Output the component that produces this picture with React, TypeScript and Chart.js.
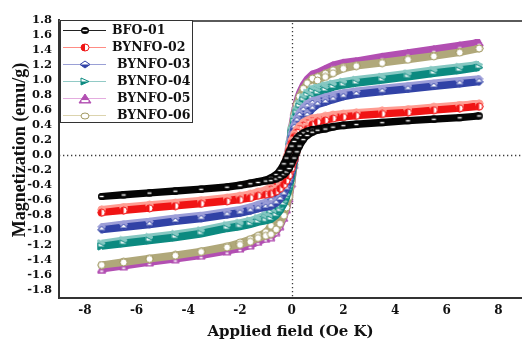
import React, { useEffect, useRef } from 'react';
import { Chart, registerables } from 'chart.js';

Chart.register(...registerables);

// ---- data (applied field in kOe, magnetization in emu/g) ----
const FIELD_DOWN = [7.25, 6.5, 5.5, 4.5, 3.5, 2.5, 2.0, 1.6, 1.3, 1.0, 0.8, 0.6, 0.45, 0.3, 0.2, 0.1, 0.0, -0.1, -0.2, -0.3, -0.45, -0.6, -0.8, -1.0, -1.3, -1.6, -2.0, -2.5, -3.5, -4.5, -5.5, -6.5, -7.35];
const FIELD_UP = [-7.35, -6.5, -5.5, -4.5, -3.5, -2.5, -2.0, -1.6, -1.3, -1.0, -0.8, -0.6, -0.45, -0.3, -0.2, -0.1, 0.0, 0.1, 0.2, 0.3, 0.45, 0.6, 0.8, 1.0, 1.3, 1.6, 2.0, 2.5, 3.5, 4.5, 5.5, 6.5, 7.25];

const BFO01_DOWN = [0.52, 0.50, 0.48, 0.46, 0.435, 0.412, 0.398, 0.38, 0.365, 0.345, 0.338, 0.317, 0.293, 0.259, 0.224, 0.179, 0.117, 0.041, -0.042, -0.119, -0.207, -0.263, -0.306, -0.334, -0.355, -0.375, -0.40, -0.425, -0.455, -0.48, -0.505, -0.53, -0.555];
const BFO01_UP = [-0.555, -0.535, -0.51, -0.485, -0.46, -0.432, -0.41, -0.385, -0.368, -0.35, -0.343, -0.322, -0.298, -0.263, -0.228, -0.182, -0.119, -0.042, 0.041, 0.117, 0.204, 0.259, 0.302, 0.329, 0.345, 0.37, 0.39, 0.405, 0.43, 0.455, 0.475, 0.495, 0.52];

const BYNFO02_DOWN = [0.645, 0.625, 0.60, 0.57, 0.55, 0.527, 0.512, 0.497, 0.48, 0.46, 0.451, 0.423, 0.391, 0.345, 0.299, 0.239, 0.156, 0.055, -0.064, -0.18, -0.313, -0.398, -0.464, -0.506, -0.53, -0.56, -0.585, -0.61, -0.645, -0.677, -0.707, -0.737, -0.77];
const BYNFO02_UP = [-0.77, -0.743, -0.713, -0.683, -0.653, -0.62, -0.60, -0.575, -0.545, -0.53, -0.519, -0.488, -0.451, -0.398, -0.345, -0.276, -0.18, -0.064, 0.055, 0.156, 0.271, 0.345, 0.403, 0.439, 0.46, 0.485, 0.505, 0.522, 0.547, 0.567, 0.597, 0.622, 0.645];

const BYNFO03_DOWN = [0.975, 0.953, 0.918, 0.883, 0.848, 0.813, 0.79, 0.76, 0.735, 0.70, 0.686, 0.644, 0.595, 0.525, 0.455, 0.364, 0.238, 0.084, -0.084, -0.238, -0.413, -0.525, -0.613, -0.669, -0.70, -0.735, -0.768, -0.795, -0.847, -0.882, -0.927, -0.962, -1.0];
const BYNFO03_UP = [-1.0, -0.968, -0.933, -0.888, -0.853, -0.803, -0.778, -0.75, -0.72, -0.70, -0.686, -0.644, -0.595, -0.525, -0.455, -0.364, -0.238, -0.084, 0.084, 0.238, 0.413, 0.525, 0.613, 0.669, 0.70, 0.735, 0.775, 0.805, 0.842, 0.877, 0.912, 0.947, 0.975];

const BYNFO04_DOWN = [1.165, 1.135, 1.095, 1.05, 1.005, 0.965, 0.94, 0.915, 0.89, 0.86, 0.843, 0.791, 0.731, 0.645, 0.559, 0.447, 0.292, 0.103, -0.106, -0.299, -0.519, -0.66, -0.77, -0.84, -0.88, -0.915, -0.945, -0.975, -1.045, -1.095, -1.135, -1.175, -1.22];
const BYNFO04_UP = [-1.22, -1.185, -1.145, -1.105, -1.055, -0.985, -0.96, -0.93, -0.90, -0.88, -0.862, -0.81, -0.748, -0.66, -0.572, -0.458, -0.299, -0.106, 0.103, 0.292, 0.507, 0.645, 0.753, 0.821, 0.86, 0.90, 0.93, 0.955, 0.995, 1.04, 1.085, 1.125, 1.165];

const BYNFO05_DOWN = [1.50, 1.465, 1.415, 1.365, 1.315, 1.255, 1.235, 1.20, 1.15, 1.10, 1.078, 1.012, 0.935, 0.825, 0.715, 0.572, 0.374, 0.132, -0.134, -0.381, -0.661, -0.84, -0.98, -1.07, -1.12, -1.17, -1.22, -1.27, -1.335, -1.38, -1.425, -1.475, -1.525];
const BYNFO05_UP = [-1.525, -1.485, -1.435, -1.39, -1.345, -1.285, -1.25, -1.21, -1.16, -1.12, -1.098, -1.03, -0.952, -0.84, -0.728, -0.582, -0.381, -0.134, 0.132, 0.374, 0.649, 0.825, 0.963, 1.051, 1.10, 1.15, 1.20, 1.245, 1.305, 1.355, 1.405, 1.455, 1.50];

const BYNFO06_DOWN = [1.42, 1.375, 1.325, 1.28, 1.235, 1.195, 1.17, 1.13, 1.085, 1.04, 1.019, 0.957, 0.884, 0.78, 0.676, 0.541, 0.354, 0.125, -0.13, -0.367, -0.637, -0.81, -0.945, -1.031, -1.08, -1.125, -1.17, -1.22, -1.285, -1.335, -1.38, -1.425, -1.47];
const BYNFO06_UP = [-1.47, -1.435, -1.39, -1.345, -1.295, -1.235, -1.20, -1.16, -1.11, -1.08, -1.058, -0.994, -0.918, -0.81, -0.702, -0.562, -0.367, -0.13, 0.125, 0.354, 0.614, 0.78, 0.91, 0.993, 1.04, 1.09, 1.15, 1.185, 1.225, 1.27, 1.315, 1.365, 1.42];

const SERIES_NAMES = ['BFO-01', 'BYNFO-02', 'BYNFO-03', 'BYNFO-04', 'BYNFO-05', 'BYNFO-06'];
const SERIES_DOWN = [BFO01_DOWN, BYNFO02_DOWN, BYNFO03_DOWN, BYNFO04_DOWN, BYNFO05_DOWN, BYNFO06_DOWN];
const SERIES_UP = [BFO01_UP, BYNFO02_UP, BYNFO03_UP, BYNFO04_UP, BYNFO05_UP, BYNFO06_UP];

const X_TICKS = [-8, -6, -4, -2, 0, 2, 4, 6, 8];
const Y_TICKS = [-1.8, -1.6, -1.4, -1.2, -1.0, -0.8, -0.6, -0.4, -0.2, 0.0, 0.2, 0.4, 0.6, 0.8, 1.0, 1.2, 1.4, 1.6, 1.8];

const X_TITLE = 'Applied field (Oe K)';
const Y_TITLE = 'Magnetization (emu/g)';

// ---- styles ----
const LINE_COLORS = ['#050505', '#f01414', '#3142a6', '#0c8a80', '#b24fb2', '#b0a87a'];
const MARKER_COLORS = ['#050505', '#f01414', '#3142a6', '#0c8a80', '#b24fb2', '#a29962'];
const SHADOW_COLORS = ['', '#ff9c92', '#9c9ed8', '#86c8c2', '', ''];
const LEGEND_LINE_COLORS = ['#222222', '#ff8c84', '#9aa0d6', '#92cac6', '#e4acdf', '#dcd4ae'];
const MARKER_KINDS = ['circleStripe', 'circleHalf', 'diamondHalf', 'triRightHalf', 'triUpHalf', 'circleOpen'];
const DRAW_ORDER = [0, 1, 2, 3, 5, 4];

function makeMarker(kind: string, color: string, w: number, h: number): HTMLCanvasElement {
  const c = document.createElement('canvas');
  c.width = w;
  c.height = h;
  const g = c.getContext('2d') as CanvasRenderingContext2D;
  const mx = w / 2;
  const my = h / 2;
  const rx = w / 2 - 1;
  const ry = h / 2 - 1;
  g.lineWidth = 1;
  g.strokeStyle = color;
  const ell = () => {
    g.beginPath();
    g.ellipse(mx, my, rx, ry, 0, 0, Math.PI * 2);
  };
  if (kind === 'circleStripe') {
    g.fillStyle = color;
    ell();
    g.fill();
    g.fillStyle = '#ffffff';
    g.fillRect(mx - rx + 1.5, my - 0.7, 2 * rx - 3, 1.4);
  } else if (kind === 'circleHalf') {
    g.fillStyle = '#ffffff';
    ell();
    g.fill();
    g.fillStyle = color;
    g.beginPath();
    g.ellipse(mx, my, rx, ry, 0, Math.PI / 2, (Math.PI * 3) / 2);
    g.closePath();
    g.fill();
    ell();
    g.stroke();
  } else if (kind === 'diamondHalf') {
    g.fillStyle = '#ffffff';
    g.beginPath();
    g.moveTo(mx, my - ry);
    g.lineTo(mx + rx, my);
    g.lineTo(mx, my + ry);
    g.lineTo(mx - rx, my);
    g.closePath();
    g.fill();
    g.stroke();
    g.fillStyle = color;
    g.beginPath();
    g.moveTo(mx - rx, my);
    g.lineTo(mx + rx, my);
    g.lineTo(mx, my + ry);
    g.closePath();
    g.fill();
  } else if (kind === 'triRightHalf') {
    g.fillStyle = '#ffffff';
    g.beginPath();
    g.moveTo(mx - rx, my - ry);
    g.lineTo(mx + rx, my);
    g.lineTo(mx - rx, my + ry);
    g.closePath();
    g.fill();
    g.stroke();
    g.fillStyle = color;
    g.beginPath();
    g.moveTo(mx - rx, my);
    g.lineTo(mx + rx, my);
    g.lineTo(mx - rx, my + ry);
    g.closePath();
    g.fill();
  } else if (kind === 'triUpHalf') {
    g.fillStyle = color;
    g.beginPath();
    g.moveTo(mx, my - ry);
    g.lineTo(mx + rx, my + ry);
    g.lineTo(mx - rx, my + ry);
    g.closePath();
    g.fill();
    g.stroke();
    g.fillStyle = '#ffffff';
    g.fillRect(mx - rx + 2.5, my + ry * 0.35, 2 * rx - 5, ry * 0.45);
  } else {
    g.fillStyle = '#ffffff';
    ell();
    g.fill();
    g.stroke();
  }
  return c;
}

export default function App() {
  const ref = useRef<HTMLCanvasElement>(null);

  useEffect(() => {
    const canvas = ref.current as HTMLCanvasElement;
    const dataMarkers = MARKER_KINDS.map((k, i) =>
      k === 'triUpHalf' ? makeMarker(k, MARKER_COLORS[i], 10, 9) : makeMarker(k, MARKER_COLORS[i], 9, 9)
    );
    const legendMarkers = MARKER_KINDS.map((k, i) => {
      if (k === 'triUpHalf') return makeMarker(k, MARKER_COLORS[i], 14, 11);
      if (k === 'diamondHalf') return makeMarker(k, MARKER_COLORS[i], 12, 9);
      if (k === 'circleOpen') return makeMarker(k, MARKER_COLORS[i], 10, 8);
      return makeMarker(k, MARKER_COLORS[i], 10, 9);
    });

    const datasets = SERIES_NAMES.map((name, i) => ({
      label: name,
      data: [
        ...FIELD_DOWN.map((h, j) => ({ x: h, y: SERIES_DOWN[i][j] })),
        ...FIELD_UP.map((h, j) => ({ x: h, y: SERIES_UP[i][j] })),
      ],
      showLine: true,
      borderColor: LINE_COLORS[i],
      backgroundColor: LINE_COLORS[i],
      borderWidth: 7,
      tension: 0,
      pointStyle: dataMarkers[i] as any,
      pointRadius: 4,
      order: DRAW_ORDER[i],
    }));

    const decorPlugin = {
      id: 'decor',
      beforeDatasetsDraw(chart: any) {
        const { ctx, chartArea, scales } = chart;
        const x0 = scales.x.getPixelForValue(0);
        const y0 = scales.y.getPixelForValue(0);
        ctx.save();
        ctx.strokeStyle = '#3a3a3a';
        ctx.lineWidth = 1.3;
        ctx.setLineDash([1.3, 2.7]);
        ctx.beginPath();
        ctx.moveTo(chartArea.left, Math.round(y0) + 0.5);
        ctx.lineTo(chartArea.right, Math.round(y0) + 0.5);
        ctx.moveTo(Math.round(x0) + 0.5, chartArea.top + 3);
        ctx.lineTo(Math.round(x0) + 0.5, chartArea.bottom);
        ctx.stroke();
        ctx.restore();
      },
      beforeDatasetDraw(chart: any, args: any) {
        const sc = SHADOW_COLORS[args.index];
        if (sc) {
          chart.ctx.save();
          chart.ctx.shadowColor = sc;
          chart.ctx.shadowOffsetY = -3;
          chart.ctx.shadowOffsetX = 0;
          chart.ctx.shadowBlur = 0;
        }
      },
      afterDatasetDraw(chart: any, args: any) {
        if (SHADOW_COLORS[args.index]) chart.ctx.restore();
      },
      afterDraw(chart: any) {
        const { ctx, chartArea } = chart;
        ctx.save();
        // top frame line
        ctx.strokeStyle = '#5a5a5a';
        ctx.lineWidth = 2;
        ctx.beginPath();
        ctx.moveTo(chartArea.left, chartArea.top + 1);
        ctx.lineTo(chartArea.right, chartArea.top + 1);
        ctx.stroke();

        // legend box
        const bx = chartArea.left + 1;
        const by = chartArea.top;
        const bw = 132;
        const bh = 102;
        ctx.fillStyle = '#ffffff';
        ctx.fillRect(bx, by, bw, bh);
        ctx.strokeStyle = '#333333';
        ctx.lineWidth = 1;
        ctx.strokeRect(bx + 0.5, by + 0.5, bw, bh);
        ctx.font = "bold 12.5px 'DejaVu Serif'";
        ctx.textBaseline = 'middle';
        ctx.textAlign = 'left';
        SERIES_NAMES.forEach((name, i) => {
          const y = Math.round(by + 10 + i * 16.9) + 0.5;
          ctx.strokeStyle = LEGEND_LINE_COLORS[i];
          ctx.beginPath();
          ctx.moveTo(bx + 3, y);
          ctx.lineTo(bx + 46, y);
          ctx.stroke();
          const img = legendMarkers[i];
          ctx.drawImage(img, Math.round(bx + 25 - img.width / 2), Math.round(y - img.height / 2));
          ctx.fillStyle = '#111111';
          ctx.fillText(name, bx + (i < 2 ? 52 : 57), y + 0.5);
        });

        // y axis title
        ctx.translate(25, 150);
        ctx.rotate(-Math.PI / 2);
        ctx.font = "bold 18px 'Liberation Serif'";
        ctx.textAlign = 'center';
        ctx.textBaseline = 'alphabetic';
        ctx.fillStyle = '#111111';
        ctx.fillText(Y_TITLE, 0, 0);
        ctx.restore();
      },
    };

    const chart = new Chart(canvas, {
      type: 'scatter',
      data: { datasets } as any,
      options: {
        responsive: false,
        animation: false,
        devicePixelRatio: 1,
        layout: { autoPadding: false, padding: { left: 0, right: 0, top: 20, bottom: 0 } },
        plugins: { legend: { display: false }, tooltip: { enabled: false } },
        scales: {
          x: {
            type: 'linear',
            min: -9,
            max: 8.91,
            afterBuildTicks: (s: any) => {
              s.ticks = X_TICKS.map((v) => ({ value: v }));
            },
            afterFit: (s: any) => {
              s.height = 42;
              s.paddingLeft = 0;
              s.paddingRight = 0;
            },
            grid: { display: false, drawTicks: false },
            border: { display: true, color: '#333333', width: 2 },
            ticks: {
              autoSkip: false,
              maxRotation: 0,
              padding: 6,
              color: '#111111',
              font: { family: "'DejaVu Serif'", size: 12, weight: 'bold' },
              callback: (v: any) => String(v),
            },
            title: {
              display: true,
              text: X_TITLE,
              color: '#111111',
              padding: { top: 0, bottom: 0 },
              font: { family: "'DejaVu Serif'", size: 15, weight: 'bold', lineHeight: 1 },
            },
          },
          y: {
            type: 'linear',
            min: -1.91,
            max: 1.8,
            afterBuildTicks: (s: any) => {
              s.ticks = Y_TICKS.map((v) => ({ value: v }));
            },
            afterFit: (s: any) => {
              s.width = 59;
              s.paddingTop = 0;
              s.paddingBottom = 0;
            },
            grid: { display: false, drawTicks: false },
            border: { display: true, color: '#333333', width: 2 },
            ticks: {
              autoSkip: false,
              padding: 7,
              color: '#111111',
              font: { family: "'DejaVu Serif'", size: 11.5, weight: 'bold' },
              callback: (v: any) => Number(v).toFixed(1),
            },
          },
        },
      } as any,
      plugins: [decorPlugin],
    });
    return () => chart.destroy();
  }, []);

  return (
    <div style={{ position: 'fixed', left: 0, top: 0, width: 522, height: 340, background: '#ffffff' }}>
      <canvas ref={ref} width={522} height={340} style={{ display: 'block', width: 522, height: 340 }} />
    </div>
  );
}
